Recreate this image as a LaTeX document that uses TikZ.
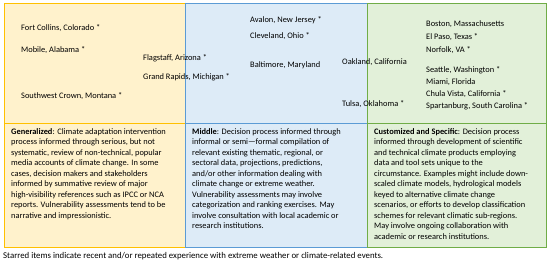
\documentclass[tikz,border=0pt]{standalone}
\usepackage{fontspec}
\setmainfont{Carlito}
\definecolor{cream}{HTML}{FFF2CC}
\definecolor{sky}{HTML}{DDEBF7}
\definecolor{mint}{HTML}{E2F0D9}
\definecolor{ochre}{HTML}{FFC000}
\definecolor{steel}{HTML}{5B9BD5}
\definecolor{leaf}{HTML}{70AD47}
\begin{document}
\begin{tikzpicture}[x=1pt,y=-1pt,line join=miter,
  every node/.style={inner sep=0pt,font=\fontsize{8.4}{10.5}\selectfont},
  cell/.style={line width=1pt},
  place/.style={anchor=base west},
  blurb/.style={anchor=north west,align=left}]
  \useasboundingbox (0,0) rectangle (550,264);
  \fill[white] (0,0) rectangle (550,264);
  \def\xa{4}
  \def\xb{185}
  \def\xc{367}
  \def\xd{546}
  \def\ya{4}
  \def\yb{124}
  \def\yc{248}
  \draw[cell,draw=ochre,fill=cream] (\xa,\ya) rectangle (\xb,\yb);
  \draw[cell,draw=ochre,fill=cream] (\xa,\yb) rectangle (\xb,\yc);
  \draw[cell,draw=steel,fill=sky] (\xb,\ya) rectangle (\xc,\yb);
  \draw[cell,draw=steel,fill=sky] (\xb,\yb) rectangle (\xc,\yc);
  \draw[cell,draw=leaf,fill=mint] (\xc,\ya) rectangle (\xd,\yb);
  \draw[cell,draw=leaf,fill=mint] (\xc,\yb) rectangle (\xd,\yc);
  % places, generalized
  \node[place] (fortcollins) at (21,31) {Fort Collins, Colorado *};
  \node[place] (mobile) at (21,53) {Mobile, Alabama *};
  \node[place] (flagstaff) at (143,61) {Flagstaff, Arizona *};
  \node[place] (grandrapids) at (143,80) {Grand Rapids, Michigan *};
  \node[place] (swcrown) at (21,99) {Southwest Crown, Montana *};
  % places, middle
  \node[place] (avalon) at (250,23) {Avalon, New Jersey *};
  \node[place] (cleveland) at (250,39) {Cleveland, Ohio *};
  \node[place] (baltimore) at (250,68) {Baltimore, Maryland};
  \node[place] (oakland) at (342,65) {Oakland, California};
  \node[place] (tulsa) at (342,107) {Tulsa, Oklahoma *};
  % places, customized
  \node[place] (boston) at (426,27) {Boston, Massachusetts};
  \node[place] (elpaso) at (426,40) {El Paso, Texas *};
  \node[place] (norfolk) at (426,53) {Norfolk, VA *};
  \node[place] (seattle) at (426,73) {Seattle, Washington *};
  \node[place] (miami) at (426,85) {Miami, Florida};
  \node[place] (chulavista) at (426,97) {Chula Vista, California *};
  \node[place] (spartanburg) at (426,109) {Spartanburg, South Carolina *};
  % descriptions
  \node[blurb] (generalized) at (\xa+7,128) {\textbf{Generalized}: Climate adaptation intervention\\
    process informed through serious, but not\\
    systematic, review of non-technical, popular\\
    media accounts of climate change. In some\\
    cases, decision makers and stakeholders\\
    informed by summative review of major\\
    high-visibility references such as IPCC or NCA\\
    reports. Vulnerability assessments tend to be\\
    narrative and impressionistic.};
  \node[blurb] (middle) at (\xb+7,128) {\textbf{Middle}: Decision process informed through\\
    informal or semi—formal compilation of\\
    relevant existing thematic, regional, or\\
    sectoral data, projections, predictions,\\
    and/or other information dealing with\\
    climate change or extreme weather.\\
    Vulnerability assessments may involve\\
    categorization and ranking exercises. May\\
    involve consultation with local academic or\\
    research institutions.};
  \node[blurb] (customized) at (\xc+7,128) {\textbf{Customized and Specific}: Decision process\\
    informed through development of scientific\\
    and technical climate products employing\\
    data and tool sets unique to the\\
    circumstance. Examples might include down-\\
    scaled climate models, hydrological models\\
    keyed to alternative climate change\\
    scenarios, or efforts to develop classification\\
    schemes for relevant climatic sub-regions.\\
    May involve ongoing collaboration with\\
    academic or research institutions.};
  \node[place,font=\fontsize{8.8}{10.5}\selectfont] (footnote) at (3,259) {Starred items indicate recent and/or repeated experience with extreme weather or climate-related events.};
\end{tikzpicture}
\end{document}
